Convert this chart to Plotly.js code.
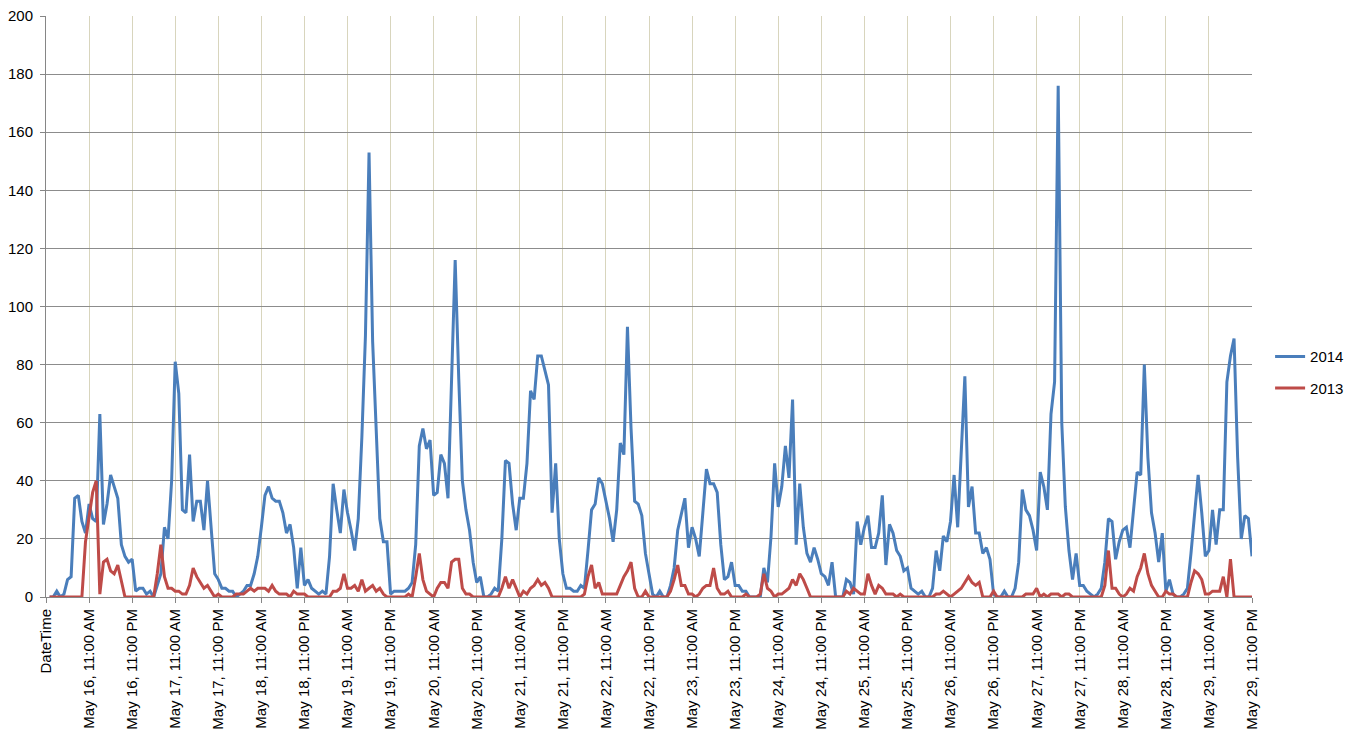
<!DOCTYPE html>
<html>
<head>
<meta charset="utf-8">
<script src="https://cdn.plot.ly/plotly-3.0.1.min.js"></script>
<style>
  html, body { margin: 0; padding: 0; background: #fff; }
  #chart { width: 1356px; height: 739px; }
</style>
</head>
<body>
<div id="chart"></div>
<script>
// hourly values, one row per day (May 16 .. May 29); first slot is the "DateTime" header row
var days = [16, 17, 18, 19, 20, 21, 22, 23, 24, 25, 26, 27, 28, 29];

var values2014 = [null,
  0,0,2,0,1,6,7,34,35,26,22,32,27,26,63,25,32,42,38,34,18,14,12,13,
  2,3,3,1,2,0,4,8,24,20,40,81,70,30,29,49,26,33,33,23,40,24,8,6,
  3,3,2,2,0,1,2,4,4,8,14,24,35,38,34,33,33,29,22,25,17,3,17,4,
  6,3,2,1,2,1,14,39,30,22,37,29,23,16,27,55,90,153,88,60,27,19,19,1,
  2,2,2,2,3,5,18,52,58,51,54,35,36,49,46,34,75,116,75,40,30,23,12,5,
  7,0,0,1,3,2,20,47,46,32,23,34,34,46,71,68,83,83,78,73,29,46,20,8,
  3,3,2,2,4,3,16,30,32,41,39,33,27,19,30,53,49,93,58,33,32,28,15,8,
  1,0,2,0,0,4,10,23,28,34,17,24,20,14,29,44,39,39,36,18,6,7,12,4,
  4,2,2,0,0,0,0,10,5,21,46,31,38,52,41,68,18,39,24,15,12,17,13,8,
  7,4,12,0,0,0,6,5,1,26,18,24,28,17,17,22,35,11,25,22,16,14,9,10,
  3,2,1,2,0,0,3,16,9,21,19,26,42,24,50,76,31,38,22,22,15,17,13,1,
  0,0,2,0,0,3,12,37,30,28,23,16,43,38,30,63,74,176,60,31,16,6,15,4,
  4,2,1,0,1,3,12,27,26,13,19,23,24,17,30,43,42,80,48,29,22,12,22,2,
  6,1,0,0,1,3,15,30,42,29,14,16,30,18,30,30,74,83,89,48,20,28,27,14
];

var values2013 = [null,
  0,0,0,0,0,0,0,0,0,0,19,27,36,40,1,12,13,9,8,11,5,0,0,0,
  0,0,0,0,0,0,8,18,7,3,3,2,2,1,1,4,10,7,5,3,4,2,0,1,
  0,0,0,0,1,1,1,2,3,2,3,3,3,2,4,2,1,1,1,0,2,1,1,1,
  0,0,0,0,0,0,0,2,2,3,8,3,3,4,2,6,2,3,4,2,3,1,0,0,
  0,0,0,0,1,0,7,15,6,2,1,0,3,5,5,3,12,13,13,3,1,1,0,0,
  0,0,0,0,0,0,3,7,3,6,3,0,2,1,3,4,6,4,5,3,0,0,0,0,
  0,0,0,0,0,1,7,11,3,5,1,1,1,1,1,4,7,9,12,3,0,0,2,0,
  0,0,0,0,0,2,6,11,4,4,1,1,0,1,3,4,4,10,3,1,1,2,0,0,
  0,0,1,0,0,0,1,8,3,2,0,1,1,2,3,6,4,8,6,3,0,0,0,0,
  0,0,0,0,0,0,2,1,3,2,1,1,8,4,1,4,3,1,1,1,0,1,0,0,
  0,0,0,0,0,0,0,1,1,2,1,0,1,2,3,5,7,5,4,5,0,0,0,2,
  0,0,0,0,0,0,0,0,1,1,1,3,0,1,0,1,1,1,0,1,1,0,0,0,
  0,0,0,0,0,0,4,16,3,3,1,0,1,3,2,7,10,15,8,4,2,0,0,2,
  1,1,0,0,0,0,5,9,8,6,1,1,2,2,2,7,0,13,0,0,0,0,0,0
];

// category labels: "DateTime", then every hour of every day
var categories = ['DateTime'];
days.forEach(function (d) {
  for (var h = 0; h < 24; h++) {
    var h12 = h % 12 === 0 ? 12 : h % 12;
    categories.push('May ' + d + ', ' + h12 + ':00 ' + (h < 12 ? 'AM' : 'PM'));
  }
});

// Excel shows every 12th label
var tickLabels = categories.filter(function (c, i) { return i % 12 === 0; });

var font = 'Liberation Sans, Arial, sans-serif';

var trace1 = {
  x: categories,
  y: values2014,
  name: '2014',
  type: 'scatter',
  mode: 'lines',
  legendgroup: 'a',
  line: { color: '#4a7ebb', width: 3 }
};

var trace2 = {
  x: categories,
  y: values2013,
  name: '2013',
  type: 'scatter',
  mode: 'lines',
  legendgroup: 'b',
  line: { color: '#be4b48', width: 3 }
};

var layout = {
  width: 1356,
  height: 739,
  margin: { l: 46, r: 104, t: 16, b: 142, autoexpand: false },
  paper_bgcolor: '#ffffff',
  plot_bgcolor: '#ffffff',
  font: { family: font, size: 15, color: '#000000' },
  showlegend: true,
  legend: {
    x: 1.015,
    xanchor: 'left',
    y: 0.387,
    yanchor: 'middle',
    traceorder: 'grouped',
    tracegroupgap: 9,
    font: { family: font, size: 15, color: '#000000' }
  },
  xaxis: {
    type: 'category',
    range: [0, 336],
    tickmode: 'array',
    tickvals: tickLabels,
    ticktext: tickLabels,
    tickangle: -90,
    ticks: 'outside',
    ticklen: 5,
    tickcolor: '#868686',
    showgrid: true,
    gridcolor: '#d8d5bd',
    gridwidth: 1,
    showline: true,
    linecolor: '#868686',
    zeroline: false,
    automargin: false,
    tickfont: { family: font, size: 15, color: '#000000' }
  },
  yaxis: {
    range: [0, 200],
    dtick: 20,
    ticks: 'outside',
    ticklen: 5,
    tickcolor: '#868686',
    ticklabelstandoff: 4,
    showgrid: true,
    gridcolor: '#8c8c8c',
    gridwidth: 1,
    showline: true,
    linecolor: '#868686',
    zeroline: false,
    automargin: false,
    tickfont: { family: font, size: 15, color: '#000000' }
  },
  hovermode: false
};

var config = { displayModeBar: false, staticPlot: true };

Plotly.newPlot('chart', [trace1, trace2], layout, config);
</script>
</body>
</html>
